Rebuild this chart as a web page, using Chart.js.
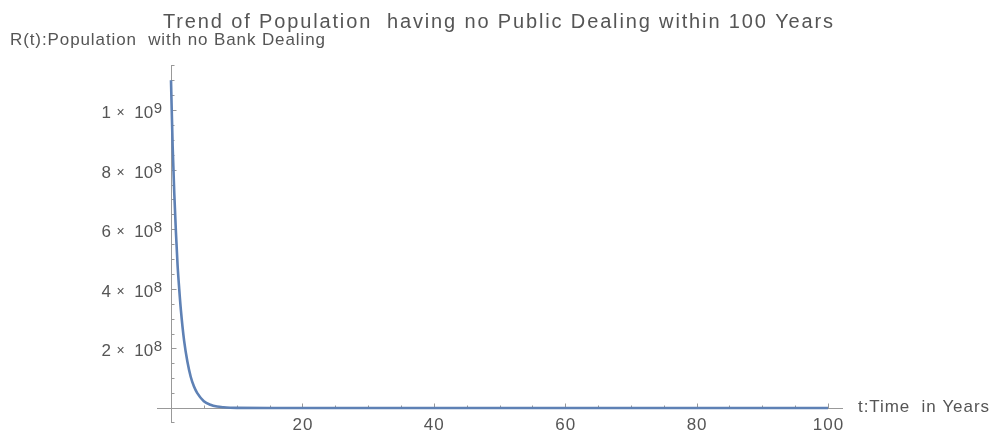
<!DOCTYPE html>
<html>
<head>
<meta charset="utf-8">
<script src="https://cdn.jsdelivr.net/npm/chart.js@4.4.1/dist/chart.umd.min.js"></script>
<style>
  html, body { margin: 0; padding: 0; background: #fff; }
  #chart { display: block; }
</style>
</head>
<body>
<canvas id="chart" width="991" height="432"></canvas>
<script>
// R(t): fast decay from 1.1e9, flat near zero after ~10 years
const tYears = [0, 0.25, 0.5, 0.75, 1, 1.25, 1.5, 2, 2.5, 3, 3.5, 4, 5, 6, 7, 8, 9, 10, 15, 20, 30, 40, 50, 60, 70, 80, 90, 100];
const rValues = [1.10e9, 0.88e9, 0.72e9, 0.59e9, 0.48e9, 0.40e9, 0.33e9, 0.225e9, 0.155e9, 0.105e9, 0.072e9, 0.05e9,
                 0.023e9, 0.011e9, 5e6, 2.4e6, 1.1e6, 5e5, 1e4, 0, 0, 0, 0, 0, 0, 0, 0, 0];

const xTickValues = [20, 40, 60, 80, 100];
const yTickValues = [2e8, 4e8, 6e8, 8e8, 1e9];
const yTickMantissa = ['2', '4', '6', '8', '1'];
const yTickExponent = ['8', '8', '8', '8', '9'];

const titleText = 'Trend of Population  having no Public Dealing within 100 Years';
const yAxisText = 'R(t):Population  with no Bank Dealing';
const xAxisText = 't:Time  in Years';

const FONT = '"Liberation Sans", Arial, sans-serif';
const TEXT = '#555555';
const AXIS = '#999999';

// draw text left-aligned, letter-spaced so that it fills the given width
function fitText(ctx, text, x, y, width) {
    ctx.textAlign = 'left';
    ctx.letterSpacing = '0px';
    const w = ctx.measureText(text).width;
    const sp = Math.max(0, (width - w) / (text.length - 1));
    ctx.letterSpacing = sp + 'px';
    ctx.fillText(text, x, y);
    ctx.letterSpacing = '0px';
}

const mathAxes = {
    id: 'mathAxes',
    beforeDatasetsDraw(chart) {
        const { ctx, chartArea, scales: { x, y } } = chart;
        const x0 = Math.round(x.getPixelForValue(0)) + 0.5;
        const y0 = Math.round(y.getPixelForValue(0)) + 0.5;
        ctx.save();
        ctx.strokeStyle = AXIS;
        ctx.lineWidth = 1;
        ctx.beginPath();
        ctx.moveTo(chartArea.left, y0);
        ctx.lineTo(chartArea.right, y0);
        ctx.moveTo(x0, chartArea.top);
        ctx.lineTo(x0, chartArea.bottom);
        ctx.stroke();

        // minor + major ticks on x axis
        ctx.beginPath();
        for (let v = 5; v <= 100; v += 5) {
            const px = Math.round(x.getPixelForValue(v)) + 0.5;
            const len = xTickValues.includes(v) ? 5 : 3;
            ctx.moveTo(px, y0);
            ctx.lineTo(px, y0 - len);
        }
        // ticks on y axis
        for (let v = 0.5e8; v <= 1.1e9; v += 0.5e8) {
            const py = Math.round(y.getPixelForValue(v)) + 0.5;
            const len = yTickValues.some(t => Math.abs(t - v) < 1) ? 5 : 3;
            ctx.moveTo(x0, py);
            ctx.lineTo(x0 + len, py);
        }
        ctx.moveTo(x0, chartArea.top + 0.5);
        ctx.lineTo(x0 + 3, chartArea.top + 0.5);
        ctx.moveTo(x0, chartArea.bottom - 0.5);
        ctx.lineTo(x0 + 3, chartArea.bottom - 0.5);
        ctx.stroke();
        ctx.restore();
    },
    afterDraw(chart) {
        const { ctx, scales: { x, y } } = chart;
        const x0 = x.getPixelForValue(0);
        const y0 = y.getPixelForValue(0);
        ctx.save();
        ctx.fillStyle = TEXT;
        ctx.textBaseline = 'alphabetic';

        // x tick labels
        ctx.font = '17px ' + FONT;
        ctx.textAlign = 'center';
        ctx.letterSpacing = '1px';
        xTickValues.forEach(v => {
            ctx.fillText(String(v), x.getPixelForValue(v) + 0.5, y0 + 22);
        });
        ctx.letterSpacing = '0px';

        // y tick labels "m × 10^e"
        const right = x0 - 9;
        yTickValues.forEach((v, i) => {
            const py = y.getPixelForValue(v);
            ctx.textAlign = 'right';
            ctx.font = '15px ' + FONT;
            const expW = ctx.measureText(yTickExponent[i]).width;
            ctx.fillText(yTickExponent[i], right, py + 3);
            ctx.font = '17px ' + FONT;
            ctx.fillText('10', right - expW - 0.5, py + 8);
            ctx.fillText(yTickMantissa[i], right - 51, py + 8);
            ctx.textAlign = 'center';
            ctx.font = '14px ' + FONT;
            ctx.fillText('×', right - 41.5, py + 7);
        });

        // title
        ctx.font = '20px ' + FONT;
        fitText(ctx, titleText, 163, 28, 670);

        // axis labels
        ctx.font = '17px ' + FONT;
        fitText(ctx, yAxisText, 10, 45, 315);
        fitText(ctx, xAxisText, 858, 412, 131);
        ctx.restore();
    }
};

const points = tYears.map((t, i) => ({ x: t, y: rValues[i] }));

new Chart(document.getElementById('chart'), {
    type: 'line',
    data: {
        datasets: [{
            label: 'R(t)',
            data: points,
            borderColor: '#5E81B5',
            borderWidth: 2.6,
            pointRadius: 0,
            fill: false,
            cubicInterpolationMode: 'monotone'
        }]
    },
    options: {
        responsive: false,
        animation: false,
        layout: { padding: { left: 157, right: 148, top: 65, bottom: 9 } },
        plugins: {
            legend: { display: false },
            tooltip: { enabled: false }
        },
        scales: {
            x: { type: 'linear', display: false, min: -2.13, max: 102.28 },
            y: { type: 'linear', display: false, min: -0.0503e9, max: 1.151e9 }
        }
    },
    plugins: [mathAxes]
});
</script>
</body>
</html>
